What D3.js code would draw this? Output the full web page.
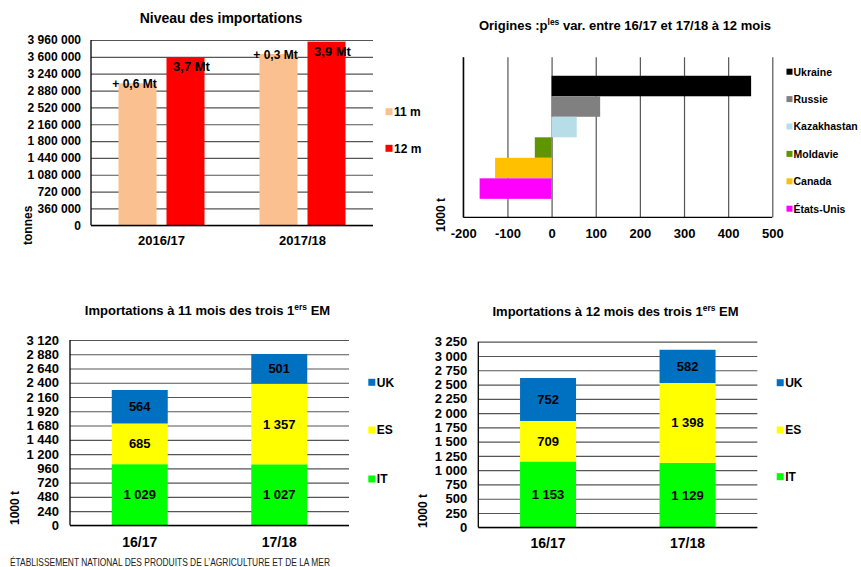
<!DOCTYPE html>
<meta charset="utf-8">
<style>
body { margin: 0; background: #fff; }
svg { font-family: "Liberation Sans", Arial, sans-serif; font-weight: bold; }
.grid line { stroke: #555; stroke-width: 1.2px; }
.axisline { stroke: #000; stroke-width: 1.3px; }
</style>
<body>
<script src="https://d3js.org/d3.v7.min.js"></script>
<script>

// ---- data ----
// chart 1: niveau des importations (tonnes)
var years = ["2016/17", "2017/18"];
var periods = ["11 m", "12 m"];
var imports11m = [3035000, 3660000];
var imports12m = [3590000, 3925000];
var varLabels = ["+ 0,6 Mt", "+ 0,3 Mt"];
var totalLabels = ["3,7 Mt", "3,9 Mt"];
var levelTicks = d3.range(0, 3960001, 360000);

// chart 2: origines, variation 16/17 -> 17/18 a 12 mois (1000 t)
var origins = ["Ukraine", "Russie", "Kazakhastan", "Moldavie", "Canada", "États-Unis"];
var originVar = [452, 110, 57, -38, -128, -163];
var originColors = ["#000000", "#808080", "#b7dee8", "#5f9600", "#ffc000", "#ff00ff"];
var varTicks = [-200, -100, 0, 100, 200, 300, 400, 500];

// charts 3 & 4: trois premiers EM (1000 t)
var campaigns = ["16/17", "17/18"];
var members = ["IT", "ES", "UK"];
var memberColors = ["#00ff00", "#ffff00", "#0070c0"];
var it11 = [1029, 1027], es11 = [685, 1357], uk11 = [564, 501];
var it12 = [1153, 1129], es12 = [709, 1398], uk12 = [752, 582];
var ticks11 = d3.range(0, 3121, 240);
var ticks12 = d3.range(0, 3251, 250);

var fr = d3.formatLocale({decimal: ",", thousands: "\u00a0", grouping: [3], currency: ["", " €"], minus: "-"});
var fmt = fr.format(",d");

var svg = d3.select("body").append("svg")
  .attr("width", 861).attr("height", 567);

// title with an optional superscript piece
function title(x, y, size, parts) {
  var t = svg.append("text").attr("x", x).attr("y", y)
    .attr("text-anchor", "middle").style("font-size", size + "px");
  var shift = Math.round(size * 0.38);
  parts.forEach(function(p) {
    var ts = t.append("tspan").text(p.t);
    if (p.sup) ts.attr("dy", -shift).style("font-size", (size * 0.65) + "px");
    if (p.after) ts.attr("dy", shift);
  });
}

function rotLabel(x, y, txt) {
  svg.append("text").attr("transform", "translate(" + x + "," + y + ") rotate(-90)")
    .style("font-size", "12px").text(txt);
}

// ---------- chart 1 ----------
(function() {
  var L = 91, R = 373, T = 40, B = 225.3;
  var x0 = d3.scaleBand().domain(years).range([L, R]).padding(0);
  var x1 = d3.scaleBand().domain(periods).range([0, x0.bandwidth()])
    .paddingInner(0.208).paddingOuter(0.573);
  var y = d3.scaleLinear().domain([0, 3960000]).range([B, T]);
  var colors = ["#fac090", "#ff0000"];

  title(221, 23, 14, [{t: "Niveau des importations"}]);

  svg.append("g").attr("class", "grid").attr("transform", "translate(" + L + ",0)")
    .call(d3.axisLeft(y).tickValues(levelTicks).tickSize(-(R - L)).tickPadding(10).tickFormat(fmt))
    .call(function(g) { g.select(".domain").remove(); })
    .selectAll("text").style("font-size", "12px").style("font-weight", "bold")
      .attr("font-family", null).attr("fill", "#000");

  var series = [imports11m, imports12m];
  years.forEach(function(yr, i) {
    periods.forEach(function(p, j) {
      svg.append("rect")
        .attr("x", x0(yr) + x1(p)).attr("width", x1.bandwidth())
        .attr("y", y(series[j][i])).attr("height", B - y(series[j][i]))
        .attr("fill", colors[j]);
    });
    svg.append("text").attr("text-anchor", "middle").style("font-size", "12px")
      .attr("x", x0(yr) + x1(periods[0]) + x1.bandwidth() / 2 - 3)
      .attr("y", y(imports11m[i]) + 5).text(varLabels[i]);
    svg.append("text").attr("text-anchor", "middle").style("font-size", "13px")
      .attr("x", x0(yr) + x1(periods[1]) + x1.bandwidth() / 2 + 6)
      .attr("y", y(imports12m[i]) + 14).text(totalLabels[i]);
    svg.append("text").attr("text-anchor", "middle").style("font-size", "13px")
      .attr("x", x0(yr) + x0.bandwidth() / 2).attr("y", 245).text(yr);
  });

  svg.append("line").attr("class", "axisline").attr("x1", L).attr("x2", L).attr("y1", T).attr("y2", B);
  svg.append("line").attr("class", "axisline").attr("x1", L).attr("x2", R).attr("y1", B).attr("y2", B);

  rotLabel(32, 245, "tonnes");

  periods.forEach(function(p, j) {
    var ly = [111.7, 148.3][j];
    svg.append("rect").attr("x", 385.5).attr("y", ly - 3.5).attr("width", 7).attr("height", 7).attr("fill", colors[j]);
    svg.append("text").attr("x", 394).attr("y", ly + 4.3).style("font-size", "12px").text(p);
  });
})();

// ---------- chart 2 ----------
(function() {
  var L = 463.3, R = 772.3, T = 57.3, B = 217.3;
  var x = d3.scaleLinear().domain([-200, 500]).range([L, R]);
  var y0 = d3.scaleBand().domain(["12 mois"]).range([T, B]).paddingInner(0).paddingOuter(0.15);
  var y1 = d3.scaleBand().domain(origins).range([0, y0.bandwidth()]);

  title(625, 30, 13, [{t: "Origines :p"}, {t: "les", sup: true}, {t: " var. entre 16/17 et 17/18 à 12 mois", after: true}]);

  svg.append("g").attr("class", "grid").attr("transform", "translate(0," + B + ")")
    .call(d3.axisBottom(x).tickValues(varTicks).tickSize(-(B - T)).tickPadding(11).tickFormat(fr.format("d")))
    .call(function(g) { g.select(".domain").remove(); })
    .selectAll("text").style("font-size", "13px").style("font-weight", "bold")
      .attr("font-family", null).attr("fill", "#000");

  origins.forEach(function(c, i) {
    var v = originVar[i];
    svg.append("rect")
      .attr("x", x(Math.min(0, v))).attr("width", Math.abs(x(v) - x(0)))
      .attr("y", y0("12 mois") + y1(c)).attr("height", y1.bandwidth())
      .attr("fill", originColors[i]);
  });

  svg.append("line").attr("class", "axisline").attr("x1", L).attr("x2", L).attr("y1", T).attr("y2", B);
  svg.append("line").attr("class", "axisline").attr("x1", L).attr("x2", R).attr("y1", B).attr("y2", B);

  rotLabel(445, 232, "1000 t");

  origins.forEach(function(c, i) {
    var ly = 71.7 + i * 27.4;
    svg.append("rect").attr("x", 786.5).attr("y", ly - 3).attr("width", 6).attr("height", 6).attr("fill", originColors[i]);
    svg.append("text").attr("x", 793.5).attr("y", ly + 3.8).style("font-size", "10.5px").text(c);
  });
})();

// ---------- charts 3 & 4 ----------
function stacked(opt) {
  var L = opt.L, R = opt.R, T = opt.T, B = opt.B;
  var x = d3.scaleBand().domain(campaigns).range([L, R]).paddingInner(0.5986).paddingOuter(0.2993);
  var y = d3.scaleLinear().domain([0, opt.max]).range([B, T]);
  var rows = campaigns.map(function(c, i) {
    return {campaign: c, IT: opt.it[i], ES: opt.es[i], UK: opt.uk[i]};
  });
  var stack = d3.stack().keys(members)(rows);

  title(opt.tx, opt.ty, 13, [{t: opt.title}, {t: "ers", sup: true}, {t: " EM", after: true}]);

  svg.append("g").attr("class", "grid").attr("transform", "translate(" + L + ",0)")
    .call(d3.axisLeft(y).tickValues(opt.ticks).tickSize(-(R - L)).tickPadding(11).tickFormat(fmt))
    .call(function(g) { g.select(".domain").remove(); })
    .selectAll("text").style("font-size", "13px").style("font-weight", "bold")
      .attr("font-family", null).attr("fill", "#000");

  stack.forEach(function(layer, k) {
    layer.forEach(function(d) {
      var c = d.data.campaign;
      svg.append("rect").attr("x", x(c)).attr("width", x.bandwidth())
        .attr("y", y(d[1])).attr("height", y(d[0]) - y(d[1]))
        .attr("fill", memberColors[k]);
      svg.append("text").attr("text-anchor", "middle").style("font-size", "13px")
        .attr("x", x(c) + x.bandwidth() / 2).attr("y", (y(d[0]) + y(d[1])) / 2 + 4.5)
        .text(fmt(d[1] - d[0]));
    });
  });

  campaigns.forEach(function(c) {
    svg.append("text").attr("text-anchor", "middle").style("font-size", "14px")
      .attr("x", x(c) + x.bandwidth() / 2).attr("y", opt.xlabY).text(c);
  });

  svg.append("line").attr("class", "axisline").attr("x1", L).attr("x2", L).attr("y1", T).attr("y2", B);
  svg.append("line").attr("class", "axisline").attr("x1", L).attr("x2", R).attr("y1", B).attr("y2", B);

  rotLabel(opt.unitX, opt.unitY, "1000 t");

  members.slice().reverse().forEach(function(m, i) {
    var k = members.indexOf(m);
    var ly = opt.legY[i];
    svg.append("rect").attr("x", opt.legX).attr("y", ly - 3.5).attr("width", 7).attr("height", 7).attr("fill", memberColors[k]);
    svg.append("text").attr("x", opt.legX + 8.5).attr("y", ly + 4.3).style("font-size", "12px").text(m);
  });
}

stacked({L: 70, R: 349, T: 340, B: 525.3, max: 3120, ticks: ticks11,
  it: it11, es: es11, uk: uk11, title: "Importations à 11 mois des trois 1",
  tx: 207.5, ty: 315, xlabY: 546.5, unitX: 19, unitY: 525,
  legX: 368.3, legY: [382.3, 430, 479]});

stacked({L: 478.3, R: 757.3, T: 341.7, B: 527.3, max: 3250, ticks: ticks12,
  it: it12, es: es12, uk: uk12, title: "Importations à 12 mois des trois 1",
  tx: 615.5, ty: 316, xlabY: 548, unitX: 427, unitY: 528,
  legX: 776.7, legY: [382.7, 430, 476.7]});

// footer
svg.append("text").attr("x", 10).attr("y", 566)
  .attr("textLength", 320).attr("lengthAdjust", "spacingAndGlyphs")
  .style("font-size", "11px").style("font-weight", "normal").style("fill", "#222")
  .text("ÉTABLISSEMENT NATIONAL DES PRODUITS DE L’AGRICULTURE ET DE LA MER");

</script>
</body>
